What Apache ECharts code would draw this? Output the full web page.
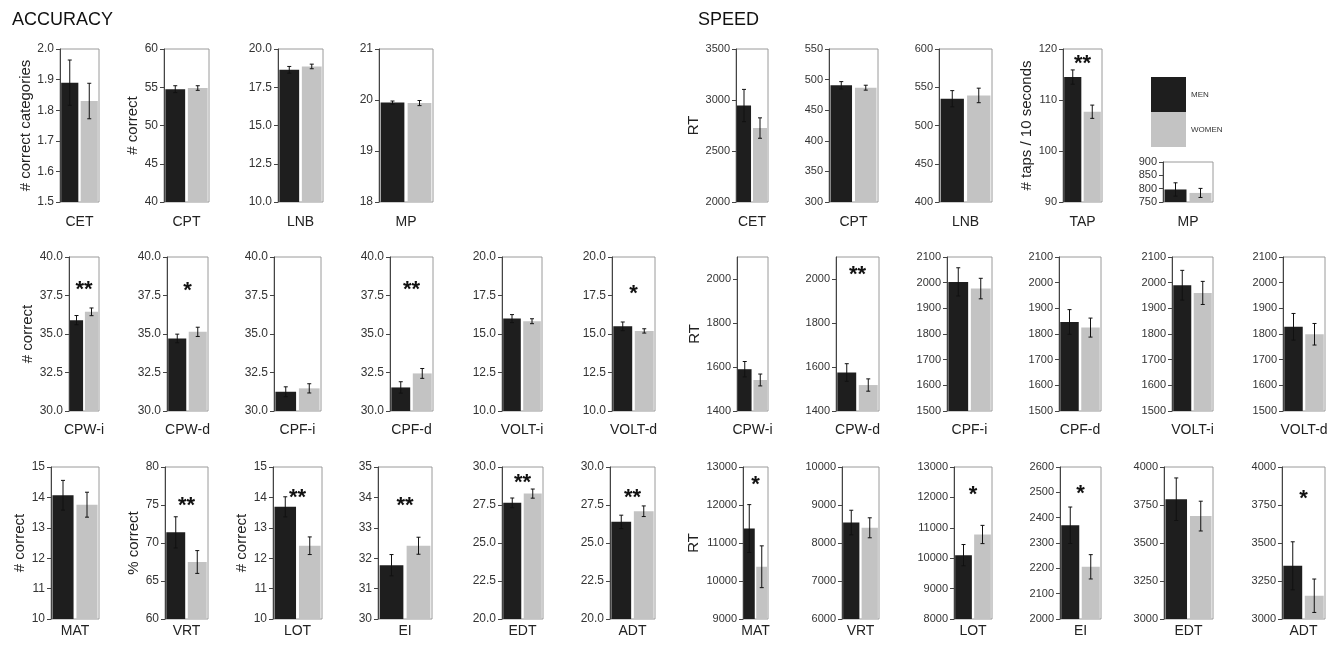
<!DOCTYPE html>
<html><head><meta charset="utf-8">
<script src="https://cdn.jsdelivr.net/npm/echarts@6/dist/echarts.min.js"></script>
<style>html,body{margin:0;padding:0;background:#fff}#c{width:1339px;height:649px}</style>
</head><body><div id="c"></div>
<script>
// ---------- DATA ----------
const panelLabels = ['CET','CPT','LNB','MP','CPW-i','CPW-d','CPF-i','CPF-d','VOLT-i','VOLT-d','MAT','VRT','LOT','EI','EDT','ADT',
  'CET','CPT','LNB','TAP','MP','CPW-i','CPW-d','CPF-i','CPF-d','VOLT-i','VOLT-d','MAT','VRT','LOT','EI','EDT','ADT'];
const groups = ['MEN','WOMEN'];
const menMean = [1.89,54.75,18.64,19.95,35.9,34.71,31.25,31.53,16.0,15.5,14.07,71.4,13.69,31.77,27.64,26.39,
  2946,490.7,535,114.5,797,1590,1575,2003,1847,1990,1828,11380,8538,10100,2370,3788,3350];
const menErr = [0.074,0.45,0.22,0.03,0.3,0.28,0.32,0.37,0.26,0.28,0.49,2.05,0.33,0.35,0.32,0.44,
  158,6,10.6,1.4,25,35,40,55,48,58,52,630,324,350,72,140,158];
const womenMean = [1.83,54.9,18.86,19.94,36.44,35.14,31.47,32.44,15.83,15.2,13.76,67.5,12.41,32.41,28.25,27.09,
  2725,486.8,539.3,107.7,784,1541,1518,1977,1825,1960,1799,10375,8400,10780,2206,3677,3153];
const womenErr = [0.058,0.3,0.15,0.05,0.25,0.3,0.3,0.32,0.16,0.14,0.41,1.5,0.29,0.28,0.3,0.35,
  100,4,9.5,1.3,17,27,28,40,37,45,42,550,263,300,48,98,110];
const yMin = [1.5,40,10,18,30,30,30,30,10,10,10,60,10,30,20,20, 2000,300,400,90,750,1400,1400,1500,1500,1500,1500,9000,6000,8000,2000,3000,3000];
const yMax = [2.0,60,20,21,40,40,40,40,20,20,15,80,15,35,30,30, 3500,550,600,120,900,2100,2100,2100,2100,2100,2100,13000,10000,13000,2600,4000,4000];
const yStep = [0.1,5,2.5,1,2.5,2.5,2.5,2.5,2.5,2.5,1,5,1,1,2.5,2.5, 500,50,50,10,50,200,200,100,100,100,100,1000,1000,1000,100,250,250];
const tickDecimals = [1,0,1,0,1,1,1,1,1,1,0,0,0,0,1,1, 0,0,0,0,0,0,0,0,0,0,0,0,0,0,0,0,0];
const yTitles = {0:'# correct categories',1:'# correct',4:'# correct',10:'# correct',11:'% correct',12:'# correct',
  16:'RT',19:'# taps / 10 seconds',21:'RT',27:'RT'};
const stars = {4:'**',5:'*',7:'**',9:'*',11:'**',12:'**',13:'**',14:'**',15:'**',19:'**',22:'**',27:'*',29:'*',30:'*',32:'*'};
const starLevel = {4:38.2,5:38.1,7:38.2,9:17.9,11:75.5,12:14.15,13:33.9,14:29.3,15:28.3,19:118,22:2040,27:12650,29:12250,30:2515,32:3820};

// ---------- LAYOUT ----------
const boxL = [60,164,278,379, 69,167,274,390,502,612, 51,165,273,378,502,610,
  736,829,939,1063,1163, 737,836,947,1059,1172,1283, 743,842,954,1060,1164,1282];
const boxR = [99,209,323,433, 99,208,321,433,542,655, 99,208,322,432,543,655,
  768,878,992,1102,1213, 768,879,992,1101,1213,1325, 768,879,992,1101,1213,1325];
const rowOf = [0,0,0,0, 1,1,1,1,1,1, 2,2,2,2,2,2, 0,0,0,0,3, 1,1,1,1,1,1, 2,2,2,2,2,2];
const rowTop = [49,257,467,162], rowBot = [202,411,619,202], nameGapX = [13,12,5,13];
const titleGap = {0:19,1:18,4:33,10:15,11:17,12:13,16:33,19:23,21:34,27:42};
const FONT = 'Liberation Sans';

function tickValues(i) {
  const out = [], n = Math.round((yMax[i] - yMin[i]) / yStep[i] + 1e-9);
  for (let k = 0; k <= n; k++) out.push(+(yMin[i] + k * yStep[i]).toFixed(6));
  return out;
}

const grids = [], xAxes = [], yAxes = [], series = [];
panelLabels.forEach((lab, i) => {
  const r = rowOf[i], speed = i >= 16, ticks = tickValues(i);
  grids.push({left: boxL[i], top: rowTop[r], width: boxR[i]-boxL[i], height: rowBot[r]-rowTop[r],
    show: true, borderColor: '#9a9a9a', borderWidth: 1, containLabel: false, outerBoundsMode: 'none'});
  xAxes.push({type: 'category', gridIndex: i, data: groups, axisLabel: {show: false}, axisTick: {show: false},
    axisLine: {show: false}, name: lab, nameLocation: 'middle', nameGap: nameGapX[r],
    nameTextStyle: {fontFamily: FONT, fontSize: 14, color: '#222', verticalAlign: 'top'}});
  const y = {type: 'value', gridIndex: i, min: yMin[i], max: yMax[i], interval: yStep[i],
    splitLine: {show: false},
    axisLine: {show: true, lineStyle: {color: '#444'}},
    axisTick: {show: true, length: 4, lineStyle: {color: '#444'}, customValues: ticks},
    axisLabel: {fontFamily: FONT, fontSize: speed ? 11 : 12, color: '#333', margin: 6, customValues: ticks,
      formatter: v => (+v).toFixed(tickDecimals[i])}};
  if (yTitles[i]) {
    y.name = yTitles[i]; y.nameLocation = 'middle'; y.nameGap = titleGap[i];
    y.nameTextStyle = {fontFamily: FONT, fontSize: 15, color: '#222'};
  }
  yAxes.push(y);
  series.push({type: 'bar', name: 'MEN', xAxisIndex: i, yAxisIndex: i, data: [menMean[i], '-'],
    barGap: '-100%', barCategoryGap: '12%', itemStyle: {color: '#1e1e1e'}, silent: true});
  series.push({type: 'bar', name: 'WOMEN', xAxisIndex: i, yAxisIndex: i, data: ['-', womenMean[i]],
    barGap: '-100%', barCategoryGap: '12%', itemStyle: {color: '#c3c3c3'}, silent: true});
  series.push({type: 'custom', xAxisIndex: i, yAxisIndex: i, z: 5, silent: true,
    data: [[0, menMean[i], menErr[i]], [1, womenMean[i], womenErr[i]]],
    renderItem: (params, api) => {
      const x = api.value(0), m = api.value(1), e = api.value(2);
      const t = api.coord([x, m + e]), b = api.coord([x, m - e]);
      const c = 2, st = {stroke: '#111', lineWidth: 1};
      const kids = [
        {type: 'line', shape: {x1: t[0], y1: t[1], x2: b[0], y2: b[1]}, style: st},
        {type: 'line', shape: {x1: t[0]-c, y1: t[1], x2: t[0]+c, y2: t[1]}, style: st},
        {type: 'line', shape: {x1: b[0]-c, y1: b[1], x2: b[0]+c, y2: b[1]}, style: st}];
      if (params.dataIndex === 0 && stars[i]) {
        const p0 = api.coord([0, starLevel[i]]), p1 = api.coord([1, starLevel[i]]);
        kids.push({type: 'text', style: {text: stars[i], x: (p0[0]+p1[0])/2, y: p0[1] + 5,
          align: 'center', verticalAlign: 'middle', font: 'bold 22px ' + FONT, fill: '#111'}});
      }
      return {type: 'group', children: kids};
    }});
});

const chart = echarts.init(document.getElementById('c'), null, {renderer: 'canvas'});
chart.setOption({
  animation: false,
  backgroundColor: '#fff',
  title: [
    {text: 'ACCURACY', left: 7, top: 6, textStyle: {fontFamily: FONT, fontSize: 18, fontWeight: 'normal', color: '#111'}},
    {text: 'SPEED', left: 693, top: 6, textStyle: {fontFamily: FONT, fontSize: 18, fontWeight: 'normal', color: '#111'}}
  ],
  legend: {data: groups, orient: 'vertical', left: 1151, top: 77, itemWidth: 35, itemHeight: 35, itemGap: 0,
    padding: 0, icon: 'rect', selectedMode: false, itemStyle: {borderWidth: 0},
    textStyle: {fontFamily: FONT, fontSize: 8, color: '#333'}},
  grid: grids, xAxis: xAxes, yAxis: yAxes, series: series
});
</script></body></html>
